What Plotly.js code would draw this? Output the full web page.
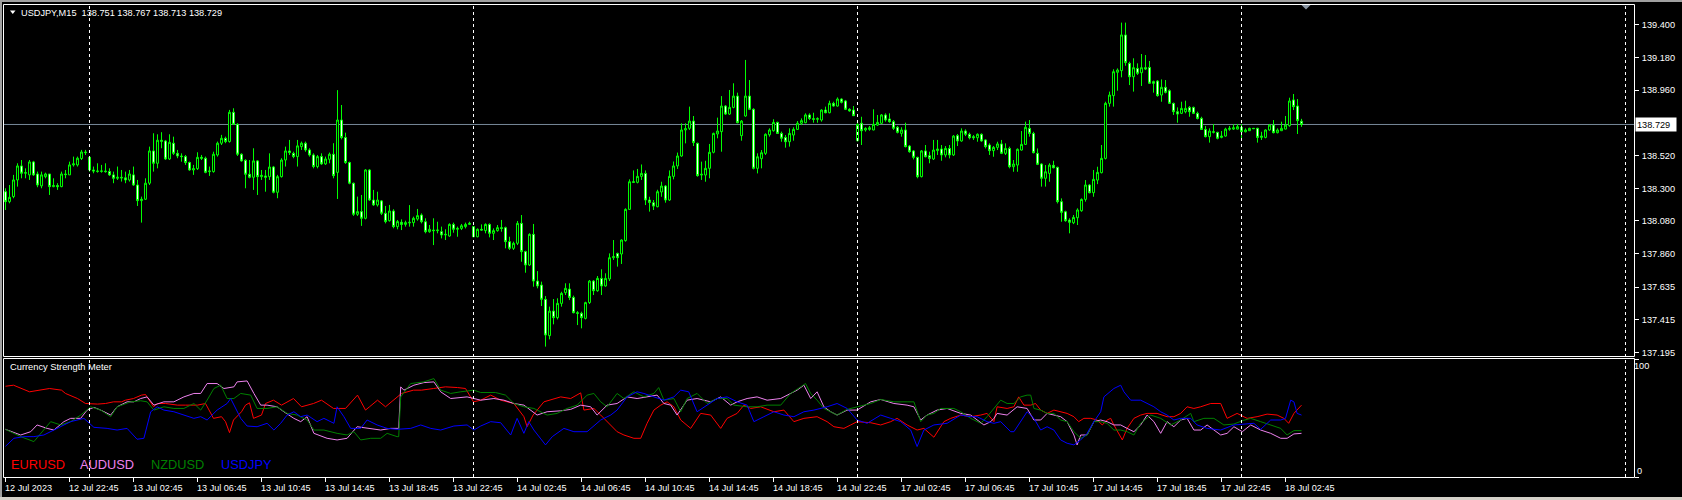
<!DOCTYPE html>
<html><head><meta charset="utf-8">
<script src="https://cdn.plot.ly/plotly-3.0.1.min.js"></script>
<style>html,body{margin:0;padding:0;background:#000;overflow:hidden}#chart{width:1682px;height:500px}</style>
</head><body><div id="chart"></div>
<script>
// ---------------- DATA ----------------
const symbolName = 'USDJPY,M15';
const openP = [
138.277,138.210,138.244,138.356,138.450,138.401,138.390,138.477,138.396,138.316,
138.378,138.396,138.311,138.318,138.311,138.396,138.390,138.457,138.457,138.500,
138.544,138.508,138.423,138.416,138.414,138.416,138.412,138.390,138.367,138.374,
138.370,138.356,138.390,138.322,138.217,138.226,138.334,138.551,138.468,138.623,
138.618,138.497,138.603,138.535,138.517,138.513,138.473,138.423,138.432,138.508,
138.502,138.412,138.412,138.524,138.603,138.636,138.614,138.811,138.730,138.529,
138.488,138.394,138.374,138.484,138.378,138.383,138.378,138.443,138.273,138.378,
138.490,138.551,138.535,138.513,138.580,138.603,138.558,138.524,138.446,138.513,
138.464,138.495,138.529,138.407,138.759,138.641,138.473,138.334,138.125,138.143,
138.098,138.423,138.221,138.188,138.215,138.132,138.082,138.147,138.042,138.071,
138.057,138.067,138.069,138.093,138.120,138.075,138.008,138.019,138.015,138.008,
137.986,137.979,138.057,138.024,138.030,138.042,138.057,138.042,137.974,138.024,
138.015,138.057,137.997,138.015,138.035,138.035,137.941,137.896,137.930,138.064,
137.874,137.784,137.990,137.676,137.649,137.553,137.309,137.474,137.430,137.526,
137.598,137.622,137.566,137.463,137.459,137.425,137.531,137.676,137.611,137.694,
137.643,137.690,137.833,137.862,137.858,137.948,138.158,138.344,138.340,138.380,
138.400,138.221,138.203,138.176,138.275,138.315,138.221,138.380,138.450,138.517,
138.692,138.703,138.752,138.602,138.389,138.389,138.434,138.542,138.665,138.681,
138.853,138.799,138.844,138.920,138.654,138.786,138.920,138.831,138.434,138.499,
138.535,138.660,138.687,138.743,138.669,138.642,138.613,138.658,138.696,138.737,
138.741,138.793,138.768,138.764,138.759,138.826,138.808,138.871,138.853,138.900,
138.887,138.831,138.826,138.620,138.737,138.692,138.696,138.692,138.725,138.737,
138.793,138.766,138.748,138.710,138.669,138.692,138.584,138.551,138.508,138.378,
138.551,138.519,138.497,138.553,138.564,138.524,138.568,138.524,138.654,138.618,
138.685,138.663,138.647,138.640,138.663,138.625,138.591,138.553,138.575,138.598,
138.535,138.568,138.445,138.456,138.557,138.595,138.703,138.669,138.535,138.463,
138.367,138.400,138.454,138.441,138.210,138.142,138.086,138.068,138.102,138.149,
138.225,138.322,138.270,138.355,138.405,138.501,138.871,138.923,139.080,139.091,
139.331,139.140,139.050,139.106,139.077,139.111,139.113,139.017,139.021,138.927,
138.979,138.956,138.871,138.815,138.804,138.815,138.844,138.844,138.804,138.770,
138.696,138.647,138.676,138.676,138.642,138.651,138.696,138.698,138.698,138.710,
138.680,138.687,138.703,138.703,138.642,138.642,138.692,138.725,138.674,138.687,
138.698,138.721,138.894,138.853,138.751];
const highP = [
138.300,138.322,138.390,138.468,138.490,138.434,138.490,138.484,138.412,138.412,
138.405,138.396,138.367,138.334,138.412,138.423,138.479,138.513,138.513,138.558,
138.558,138.513,138.446,138.468,138.457,138.468,138.434,138.412,138.446,138.423,
138.412,138.423,138.446,138.356,138.244,138.367,138.580,138.670,138.663,138.677,
138.625,138.663,138.647,138.558,138.535,138.524,138.479,138.457,138.542,138.524,
138.513,138.446,138.546,138.614,138.659,138.647,138.827,138.838,138.737,138.535,
138.495,138.490,138.569,138.490,138.423,138.423,138.535,138.450,138.390,138.502,
138.580,138.625,138.546,138.625,138.614,138.614,138.569,138.535,138.524,138.535,
138.513,138.540,138.603,138.960,138.860,138.674,138.479,138.338,138.244,138.255,
138.428,138.428,138.289,138.277,138.221,138.181,138.188,138.159,138.087,138.091,
138.082,138.187,138.109,138.161,138.131,138.098,138.053,138.098,138.075,138.042,
138.024,138.064,138.069,138.042,138.060,138.069,138.075,138.046,138.030,138.057,
138.064,138.064,138.030,138.053,138.087,138.042,137.974,137.941,138.080,138.120,
137.880,137.997,138.060,137.743,137.672,137.575,137.504,137.555,137.560,137.604,
137.661,137.661,137.578,137.474,137.470,137.537,137.683,137.683,137.710,137.755,
137.728,137.862,137.952,137.867,137.956,138.165,138.360,138.420,138.430,138.460,
138.420,138.243,138.221,138.290,138.344,138.322,138.420,138.480,138.540,138.737,
138.737,138.849,138.786,138.607,138.479,138.485,138.598,138.674,138.775,138.920,
138.860,138.961,139.006,138.943,138.759,139.163,139.028,138.838,138.535,138.557,
138.669,138.703,138.764,138.748,138.681,138.658,138.703,138.710,138.752,138.770,
138.804,138.804,138.808,138.777,138.831,138.849,138.889,138.882,138.911,138.905,
138.894,138.838,138.853,138.737,138.781,138.710,138.719,138.831,138.793,138.799,
138.804,138.804,138.759,138.719,138.710,138.741,138.591,138.557,138.512,138.557,
138.591,138.546,138.625,138.625,138.591,138.584,138.591,138.658,138.665,138.703,
138.696,138.674,138.658,138.669,138.669,138.629,138.602,138.584,138.613,138.625,
138.602,138.580,138.490,138.568,138.685,138.748,138.759,138.680,138.568,138.468,
138.456,138.468,138.485,138.445,138.232,138.149,138.098,138.120,138.165,138.232,
138.355,138.328,138.423,138.445,138.591,138.882,138.950,139.100,139.106,139.414,
139.414,139.151,139.174,139.140,139.203,139.196,139.156,139.024,139.028,139.032,
139.028,138.965,138.876,138.844,138.882,138.889,138.853,138.849,138.815,138.781,
138.719,138.703,138.732,138.680,138.685,138.707,138.719,138.730,138.732,138.732,
138.703,138.707,138.705,138.707,138.680,138.696,138.732,138.759,138.703,138.748,
138.786,138.909,138.934,138.900,138.767];
const lowP = [
138.154,138.199,138.233,138.311,138.367,138.367,138.356,138.383,138.307,138.300,
138.367,138.255,138.307,138.289,138.307,138.367,138.390,138.446,138.446,138.490,
138.524,138.412,138.401,138.405,138.405,138.405,138.383,138.334,138.356,138.345,
138.334,138.345,138.316,138.181,138.069,138.221,138.322,138.412,138.434,138.569,
138.490,138.490,138.524,138.502,138.479,138.457,138.418,138.390,138.423,138.490,
138.401,138.383,138.405,138.513,138.591,138.603,138.607,138.726,138.517,138.479,
138.300,138.367,138.289,138.255,138.356,138.277,138.356,138.266,138.233,138.372,
138.446,138.524,138.502,138.446,138.558,138.546,138.513,138.434,138.434,138.457,
138.457,138.468,138.367,138.228,138.629,138.464,138.327,138.114,138.114,138.047,
138.091,138.215,138.181,138.177,138.120,138.064,138.076,138.031,138.024,138.019,
138.042,138.042,138.042,138.082,138.064,137.997,138.001,137.918,137.997,137.963,
137.952,137.974,138.001,137.974,138.019,138.030,138.053,137.970,137.970,138.015,
137.997,137.970,137.952,138.008,138.008,137.896,137.885,137.885,137.918,137.806,
137.732,137.777,137.638,137.627,137.508,137.235,137.284,137.385,137.418,137.504,
137.582,137.548,137.459,137.380,137.358,137.418,137.522,137.582,137.604,137.582,
137.638,137.676,137.818,137.773,137.791,137.941,138.154,138.338,138.333,138.356,
138.187,138.143,138.154,138.172,138.243,138.203,138.215,138.360,138.430,138.512,
138.602,138.692,138.584,138.378,138.356,138.344,138.367,138.535,138.636,138.546,
138.793,138.793,138.838,138.737,138.620,138.781,138.826,138.427,138.400,138.434,
138.524,138.647,138.681,138.665,138.613,138.573,138.580,138.620,138.692,138.725,
138.737,138.759,138.741,138.741,138.748,138.804,138.804,138.849,138.849,138.871,
138.826,138.815,138.786,138.615,138.591,138.681,138.687,138.690,138.719,138.732,
138.748,138.741,138.692,138.669,138.647,138.575,138.539,138.494,138.367,138.373,
138.508,138.468,138.490,138.524,138.485,138.508,138.501,138.517,138.584,138.613,
138.651,138.629,138.625,138.613,138.613,138.568,138.524,138.512,138.557,138.530,
138.524,138.434,138.411,138.411,138.553,138.591,138.647,138.535,138.456,138.311,
138.311,138.344,138.434,138.198,138.075,138.075,137.997,138.059,138.053,138.142,
138.210,138.266,138.243,138.328,138.400,138.494,138.849,138.849,138.956,139.046,
139.124,138.994,138.950,139.062,138.988,139.095,139.001,138.943,138.916,138.882,
138.938,138.867,138.793,138.741,138.799,138.804,138.781,138.799,138.763,138.692,
138.642,138.607,138.669,138.629,138.636,138.647,138.687,138.692,138.696,138.636,
138.676,138.685,138.698,138.607,138.625,138.636,138.687,138.669,138.669,138.685,
138.696,138.714,138.826,138.665,138.713];
const closeP = [
138.210,138.239,138.356,138.450,138.401,138.405,138.477,138.390,138.322,138.390,
138.396,138.311,138.318,138.311,138.396,138.392,138.457,138.464,138.502,138.544,
138.540,138.423,138.416,138.414,138.416,138.412,138.390,138.367,138.374,138.370,
138.356,138.396,138.322,138.217,138.226,138.334,138.551,138.468,138.623,138.616,
138.497,138.609,138.535,138.517,138.513,138.473,138.423,138.432,138.508,138.502,
138.407,138.416,138.529,138.603,138.636,138.614,138.811,138.730,138.529,138.484,
138.394,138.374,138.484,138.378,138.387,138.374,138.443,138.273,138.378,138.490,
138.551,138.540,138.513,138.585,138.603,138.558,138.524,138.446,138.513,138.464,
138.497,138.529,138.385,138.759,138.641,138.473,138.334,138.125,138.143,138.098,
138.423,138.221,138.188,138.221,138.132,138.076,138.147,138.042,138.076,138.057,
138.069,138.071,138.098,138.116,138.075,138.008,138.024,138.015,138.019,137.986,
137.990,138.057,138.024,138.030,138.048,138.057,138.064,137.974,138.024,138.019,
138.057,137.997,138.015,138.035,138.030,137.941,137.896,137.930,138.064,137.874,
137.784,137.990,137.676,137.643,137.553,137.313,137.474,137.430,137.526,137.593,
137.627,137.566,137.463,137.459,137.430,137.531,137.676,137.611,137.694,137.643,
137.694,137.833,137.840,137.833,137.952,138.158,138.344,138.340,138.380,138.400,
138.221,138.205,138.180,138.277,138.315,138.221,138.380,138.450,138.517,138.692,
138.701,138.752,138.607,138.385,138.394,138.434,138.542,138.669,138.685,138.853,
138.799,138.844,138.920,138.741,138.752,138.920,138.831,138.434,138.512,138.539,
138.663,138.692,138.743,138.669,138.636,138.613,138.669,138.696,138.737,138.755,
138.793,138.770,138.764,138.768,138.826,138.808,138.871,138.853,138.900,138.878,
138.831,138.820,138.788,138.730,138.687,138.703,138.707,138.730,138.743,138.793,
138.759,138.748,138.703,138.676,138.692,138.580,138.546,138.508,138.378,138.551,
138.512,138.501,138.557,138.564,138.524,138.568,138.524,138.651,138.618,138.685,
138.663,138.640,138.640,138.663,138.618,138.580,138.553,138.575,138.598,138.535,
138.568,138.445,138.463,138.562,138.595,138.710,138.669,138.539,138.461,138.367,
138.411,138.456,138.438,138.210,138.138,138.082,138.071,138.104,138.154,138.225,
138.322,138.270,138.360,138.407,138.501,138.871,138.927,139.084,139.095,139.331,
139.145,139.050,139.111,139.073,139.111,139.102,139.006,139.006,138.923,138.979,
138.945,138.871,138.815,138.799,138.837,138.837,138.815,138.804,138.770,138.696,
138.647,138.685,138.680,138.636,138.651,138.698,138.703,138.707,138.714,138.680,
138.692,138.703,138.701,138.642,138.651,138.692,138.725,138.674,138.692,138.703,
138.725,138.887,138.849,138.755,138.729];

// time axis labels (bar index of each label)
const timeTickIdx = [0,16,32,48,64,80,96,112,128,144,160,176,192,208,224,240,256,272,288,304,320];
const timeTickText = ['12 Jul 2023','12 Jul 22:45','13 Jul 02:45','13 Jul 06:45','13 Jul 10:45','13 Jul 14:45','13 Jul 18:45','13 Jul 22:45','14 Jul 02:45','14 Jul 06:45','14 Jul 10:45','14 Jul 14:45','14 Jul 18:45','14 Jul 22:45','17 Jul 02:45','17 Jul 06:45','17 Jul 10:45','17 Jul 14:45','17 Jul 18:45','17 Jul 22:45','18 Jul 02:45'];
// day separators (bar index of midnight)
const daySepIdx = [21,117,213,309,405];
// price scale labels
const priceTicks = [139.400,139.180,138.960,138.520,138.300,138.080,137.860,137.635,137.415,137.195];

// Currency Strength Meter (bar position, value 0-100)
const csmNames = ['EURUSD','AUDUSD','NZDUSD','USDJPY'];
const csmColors = ['#ff0000','#ee82ee','#008000','#0000ff'];
const eurPos = [0,2,6,9,11,14,15,18,20,23,25,27,29,30,32,34,35,37,38,40,43,45,48,50,52,54,55,56,57,59,60,61,62,64,65,67,69,72,74,77,79,82,85,88,90,91,93,95,98,99,102,104,107,110,113,115,117,
118.8,121.3,123.8,127.1,129.6,130.4,131.9,134.6,137.1,138.8,141.3,143.8,144.6,147.1,148.8,151.3,152.9,154.6,157.1,158.8,160.4,162.1,163.8,165.4,167.1,168.8,171.3,173.8,176.3,178.8,180.4,182.9,184.6,186.3,188.8,192.1,194.6,197.1,199.6,202.9,205.4,207.1,209.6,211.3,212.9,216.3,218.8,221.3,222.9,225.4,227.9,229.6,232.1,234.6,236.3,238.8,
241.3,243.8,245.4,247.1,247.9,250.4,252.1,253.3,254.6,256.3,257.5,258.8,260.4,262.1,263.8,265.4,267.1,268.3,269.6,271.3,272.9,274.2,275.4,276.3,277.1,279.2,280.4,282.1,283.8,285.4,287.9,290.4,292.1,293.8,295.4,297.1,298.8,301.3,303.8,304.6,305.4,307.9,310.4,312.9,315.4,317.9,319.6,320.8,322.1,324];
const eurVal = [76.9,77.8,72.2,73.6,75.0,73.6,70.8,66.5,62.3,61.8,62.3,63.7,63.7,65.1,66.5,69.4,69.9,59.5,62.3,62.3,60.9,60.9,60.9,62.3,49.7,51.1,46.9,37.6,48.3,55.3,60.9,62.9,49.7,52.5,62.3,65.1,60.9,66.5,59.5,62.3,65.1,58.1,58.1,69.4,56.7,59.5,65.1,59.5,67.9,70.8,73.6,73.6,75.0,76.4,75.8,75.0,63.7,
65.1,69.4,65.1,62.3,51.1,42.6,52.5,63.7,66.5,67.9,66.5,71.3,56.7,58.1,52.5,44.1,38.4,35.6,32.8,32.8,45.5,56.7,60.9,63.7,59.5,48.3,41.2,53.9,52.5,41.2,49.7,53.9,60.9,58.1,59.5,55.3,56.7,46.9,49.7,51.1,46.9,42.6,41.2,44.1,46.9,46.0,44.1,46.9,49.7,44.1,39.8,41.2,33.7,46.9,49.7,52.5,
51.1,52.5,53.9,46.9,59.5,58.1,59.5,67.9,60.9,60.9,62.3,56.7,53.9,56.7,55.3,53.9,51.1,46.9,49.7,49.7,48.3,44.1,48.3,49.7,44.1,31.4,41.2,49.7,52.5,53.9,53.9,51.1,51.1,53.9,59.5,58.1,59.5,62.3,62.3,56.7,49.7,53.9,49.7,51.1,53.3,52.5,49.7,45.5,53.9,60.9];
const audPos = [0,3.8,6.3,7.9,10.4,12.1,14.6,16.3,18.8,20.4,22.1,23.8,26.3,27.9,30.4,32.1,33.8,35.4,37.1,39.6,42.1,44.6,47.1,48.8,50.4,52.9,54.6,57.1,57.9,60.4,62.1,63.8,65.4,67.9,69.6,72.1,73.8,75.4,77.1,80.4,82.9,85.4,87.9,90.4,93.8,96.3,98.3,98.8,99.6,102.1,104.6,107.1,108.8,111.3,115.4,117.1,
118.8,122.1,124.6,127.1,129.6,132.9,135.4,138.8,141.3,143.8,146.3,147.9,150.4,152.9,155.4,157.9,160.4,162.9,164.6,166.3,167.9,170.4,172.9,176.3,178.8,181.3,182.9,185.4,187.9,190.4,193.8,196.3,197.9,199.6,201.3,202.9,204.6,206.3,207.9,210.4,212.9,216.3,218.8,222.1,225.4,227.1,228.8,230.4,232.9,235.4,237.9,
238.8,241.3,242.9,244.6,246.3,247.1,247.9,250.4,252.9,255.4,257.1,258.8,260.4,262.1,263.8,265.4,267.1,267.9,268.8,270.4,272.1,273.8,275.4,277.1,278.8,280.4,282.1,283.8,285.4,287.1,288.8,290.4,292.1,293.8,295.4,297.1,298.8,300.4,302.1,303.8,305.4,307.1,309.2,311.3,313.8,316.3,318.8,320.4,322.1,324];
const audVal = [40.4,35.6,38.4,44.1,41.2,39.8,46.9,49.7,49.7,56.7,59.0,56.7,52.5,59.5,63.7,63.7,66.5,67.9,60.9,63.7,63.7,67.9,70.8,70.8,79.2,79.2,75.0,76.4,80.6,81.4,70.8,60.9,60.9,59.5,55.3,49.7,46.9,51.1,37.0,32.8,31.4,32.8,42.6,41.2,39.8,41.2,41.2,76.4,73.6,77.8,80.0,80.6,72.2,66.5,67.9,66.5,
65.1,66.5,65.1,62.3,60.9,52.5,55.3,56.1,57.3,60.9,59.5,52.5,60.9,62.3,67.9,66.5,67.9,69.4,62.3,60.9,52.5,65.1,66.5,63.7,67.9,60.9,63.7,66.5,67.9,65.1,66.5,70.8,73.6,77.8,66.5,72.2,59.5,55.3,52.5,56.7,56.7,63.7,65.7,62.3,60.9,59.5,48.3,52.5,56.7,58.1,55.3,
53.9,52.5,48.3,44.1,46.9,49.7,53.9,52.5,59.5,58.1,48.3,48.3,53.9,52.5,51.1,46.9,35.6,27.2,35.6,35.6,46.9,48.3,46.9,44.1,44.1,41.2,38.4,44.1,52.5,46.9,37.0,46.9,42.6,48.3,49.7,39.8,39.8,44.1,39.8,35.6,37.0,42.6,38.4,44.1,39.8,37.0,32.8,32.8,36.5,37.0];
const nzdPos = [0,3.8,7.1,9.6,11.3,13.8,16.3,18.8,21.3,23.8,26.3,27.9,31.3,33.8,35.4,37.1,39.6,42.1,44.6,47.1,48.8,50.4,52.1,53.8,55.4,57.1,58.8,61.3,62.9,65.4,67.9,70.4,72.9,75.4,77.1,79.6,82.9,85.4,87.1,88.8,91.3,93.8,95.4,97.9,98.3,98.8,101.3,104.6,107.1,108.8,111.3,113.8,117.1,
118.8,122.5,125,127.1,129.6,132.1,135.4,137.9,140.4,142.9,145.4,147.1,148.8,150.4,152.9,154.6,157.1,159.6,162.1,163.3,164.6,167.1,168.8,170.4,172.9,175.4,177.9,180.4,182.1,185.4,187.9,190.4,193.8,196.3,198.8,200,201.3,202.9,204.6,206.3,207.9,210.4,212.9,216.3,218.8,222.1,225.4,227.1,228.8,230.4,232.1,233.8,237.1,
238.8,241.3,243.8,245.4,247.1,248.8,250.4,252.1,253.8,255.4,256.3,257.1,258.8,260.4,262.1,263.8,265.4,267.1,268.8,270.4,272.1,273.8,275.4,277.1,278.8,280.4,282.1,283.8,286.3,288.8,291.3,293.8,296.3,297.1,299.6,302.1,304.6,307.1,309.2,311.3,313.8,316.3,318.8,320.4,322.1,324];
const nzdVal = [40.4,34.2,30.0,39.8,46.9,44.1,46.9,52.5,59.5,56.7,51.1,59.5,63.7,64.6,63.7,56.7,59.5,58.1,58.1,62.3,56.7,65.1,75.0,77.8,66.5,66.5,70.8,69.4,58.1,58.1,59.5,53.9,52.5,48.3,39.8,39.8,37.0,35.6,38.4,31.4,32.8,32.8,37.0,34.2,34.2,67.9,79.2,80.6,83.4,73.6,70.8,72.2,73.6,
71.6,71.6,69.4,62.3,59.5,58.1,52.5,53.9,58.1,60.9,69.4,70.8,63.7,59.5,70.8,66.5,72.2,67.9,70.8,75.8,65.1,66.5,55.3,66.5,70.8,62.3,66.5,66.5,60.9,59.5,59.5,60.9,60.9,70.8,76.4,79.2,70.8,65.1,58.1,55.3,52.5,57.3,59.5,62.3,65.7,63.7,63.7,63.7,46.9,52.5,53.9,58.1,58.1,
55.3,49.7,45.5,51.1,58.1,65.1,62.3,62.3,67.9,69.4,69.4,58.1,56.7,53.9,53.9,48.3,46.9,38.4,32.8,35.6,46.9,46.9,45.5,39.8,39.8,38.4,35.6,45.5,52.5,49.7,44.1,48.3,53.9,46.9,49.7,49.7,44.1,44.9,47.7,49.7,46.9,44.1,41.2,35.6,39.3,39.3];
const jpyPos = [0,2.1,4.6,7.1,9.6,12.1,14.6,16.3,19.6,22.1,25.4,27.9,30.4,32.9,34.6,36.3,37.9,39.6,42.1,44.6,47.1,48.8,50.4,52.9,55.4,56.3,57.1,58.8,60.4,62.9,65.4,67.1,68.8,70.4,72.1,73.8,75.4,77.9,79.6,82.1,82.9,84.6,86.3,88.8,90.4,92.9,95.4,97.9,101.3,103.8,106.3,108.8,112.1,115.4,117.1,
118.8,121.3,123.8,126.3,127.9,129.6,130.8,132.1,133.8,135,136.7,139.6,142.1,145.4,148.8,151.3,152.9,155.4,157.9,159.6,162.1,164.6,167.1,168.8,170.8,172.9,175.4,177.9,180.4,182.9,185.4,187.1,189.6,192.1,194.6,197.1,199.6,202.1,205.4,207.9,210.4,212.9,215.4,218.8,221.3,223.8,226.3,227.9,229.6,232.1,235.4,238.8,
241.3,242.9,245.4,247.1,248.8,251.3,252.1,253.8,255.4,257.1,258.8,260.4,262.1,263.8,265.4,267.1,268.8,270.4,272.1,273.8,274.6,277.1,278.8,279.6,281.3,283.8,285.4,287.1,288.8,290.4,292.1,293.8,296.3,297.9,300.4,303.8,307.1,309.6,312.1,313.8,316.3,318.8,320,321.3,322.1,322.9,324];
const jpyVal = [26.0,32.8,34.2,34.2,35.6,39.8,44.1,46.9,49.7,42.1,41.2,39.8,41.2,32.0,32.8,55.3,59.5,56.7,55.3,52.5,49.7,51.1,48.3,56.7,62.3,66.5,60.9,49.7,43.2,42.6,45.5,39.8,45.5,52.5,55.3,51.1,52.5,46.9,49.7,45.5,59.5,51.1,41.2,41.2,48.3,44.1,41.2,40.4,41.2,44.1,41.2,39.8,43.2,44.1,39.8,
43.2,46.9,46.0,35.6,49.7,37.0,46.9,39.8,32.8,27.2,34.2,41.2,38.4,38.4,48.3,52.5,56.7,67.9,72.2,70.8,67.9,65.1,67.9,73.6,72.2,55.3,60.9,66.5,67.9,63.7,60.9,46.9,51.1,55.3,52.5,51.1,55.3,56.7,59.5,62.3,58.1,48.3,45.5,52.5,49.7,46.9,39.8,25.8,39.8,44.1,45.5,52.5,
51.1,51.1,46.9,45.5,46.9,38.4,38.4,46.9,55.3,49.7,39.8,42.6,39.8,31.4,28.6,27.2,31.4,37.0,46.9,55.3,67.9,75.0,77.8,72.2,65.1,65.1,62.3,59.5,55.3,52.5,48.3,49.7,49.7,44.1,41.2,39.8,44.1,44.9,45.5,40.4,48.3,48.3,49.7,65.1,63.7,53.9,52.5];

// ---------------- DRAWING ----------------
const W = 1682, H = 500;
const FONT = 'Liberation Sans, Arial, sans-serif';
const px = v => v / W;
const py = v => 1 - v / H;
const barIdx = closeP.map((_, i) => i);
const last = closeP.length - 1;

const traces = [{
  type: 'candlestick', x: barIdx, open: openP, high: highP, low: lowP, close: closeP,
  xaxis: 'x', yaxis: 'y', whiskerwidth: 0, hoverinfo: 'skip', showlegend: false,
  increasing: {line: {color: '#00ff00', width: 1}, fillcolor: '#000000'},
  decreasing: {line: {color: '#00ff00', width: 1}, fillcolor: '#ffffff'}
}];
const csmX = [eurPos, audPos, nzdPos, jpyPos];
const csmY = [eurVal, audVal, nzdVal, jpyVal];
csmNames.forEach((n, k) => traces.push({
  type: 'scatter', mode: 'lines', name: n, x: csmX[k], y: csmY[k], xaxis: 'x', yaxis: 'y2',
  line: {color: csmColors[k], width: 1}, hoverinfo: 'skip', showlegend: false
}));

const shapes = [
  {type:'rect', xref:'paper', yref:'paper', x0:0, x1:1, y0:py(0), y1:py(2), fillcolor:'#a0a0a0', line:{width:0}, layer:'above'},
  {type:'rect', xref:'paper', yref:'paper', x0:0, x1:px(2), y0:0, y1:1, fillcolor:'#a0a0a0', line:{width:0}, layer:'above'},
  {type:'rect', xref:'paper', yref:'paper', x0:0, x1:1, y0:0, y1:py(497), fillcolor:'#d4d0c8', line:{width:0}, layer:'above'},
  {type:'rect', xref:'paper', yref:'paper', x0:px(3.5), x1:px(1634.5), y0:py(356.5), y1:py(4.5), line:{color:'#ffffff', width:1}, layer:'above'},
  {type:'rect', xref:'paper', yref:'paper', x0:px(3.5), x1:px(1634.5), y0:py(477.5), y1:py(358.5), line:{color:'#ffffff', width:1}, layer:'above'},
  {type:'line', xref:'paper', yref:'y', x0:px(3.5), x1:px(1634), y0:closeP[last], y1:closeP[last], line:{color:'#778899', width:1}, layer:'below'},
  {type:'path', xref:'paper', yref:'paper', path:`M ${px(10)} ${py(10.5)} L ${px(15.5)} ${py(10.5)} L ${px(12.75)} ${py(14)} Z`, fillcolor:'#ffffff', line:{width:0}},
  {type:'path', xref:'paper', yref:'paper', path:`M ${px(1301.5)} ${py(5)} L ${px(1310.5)} ${py(5)} L ${px(1306)} ${py(9.5)} Z`, fillcolor:'#8a96a3', line:{width:0}, layer:'above'}
];
daySepIdx.forEach(d => shapes.push({type:'line', xref:'x', yref:'paper', x0:d, x1:d, y0:py(477), y1:py(5),
  line:{color:'#ffffff', width:1, dash:'3px,3px'}, layer:'above'}));

const txt = (text, x, y, size, color, extra) => Object.assign({text, xref:'paper', yref:'paper', x:px(x), y:py(y),
  xanchor:'left', yanchor:'middle', showarrow:false, font:{family:FONT, size, color}, borderpad:0}, extra || {});

const annotations = [
  txt(symbolName + '\u00a0\u00a0' + [openP[last], highP[last], lowP[last], closeP[last]].map(v => v.toFixed(3)).join(' '), 20, 13, 9.2, '#ffffff'),
  txt('Currency Strength Meter', 8.5, 367.3, 9.3, '#ffffff'),
  txt('100', 1633, 366, 9.2, '#ffffff'),
  txt('0', 1636, 470.5, 9.2, '#ffffff'),
  {text: closeP[last].toFixed(3), xref:'paper', yref:'y', x:px(1634.5), y:closeP[last], xanchor:'left', yanchor:'middle',
   showarrow:false, font:{family:FONT, size:9.2, color:'#000000'}, bgcolor:'#ffffff', borderpad:1, width:38, height:11, align:'left'}
];
const legendX = [10, 79, 149.5, 220];
csmNames.forEach((n, k) => annotations.push(txt(n, legendX[k], 464.5, 12.8, csmColors[k])));
timeTickIdx.forEach((t, k) => annotations.push({text: timeTickText[k], xref:'x', yref:'paper', x:t, y:py(487.5),
  xanchor:'left', yanchor:'middle', xshift:-1.5, showarrow:false, borderpad:0, font:{family:FONT, size:9.1, color:'#ffffff'}}));

const layout = {
  width: W, height: H, margin: {l:0, r:0, t:0, b:0},
  paper_bgcolor: '#000000', plot_bgcolor: '#000000',
  showlegend: false, hovermode: false, dragmode: false,
  xaxis: {domain:[px(3), px(1634)], range:[(3 - 5.5) / 4, (1634 - 5.5) / 4], anchor:'y2',
    showgrid:false, zeroline:false, showline:false, rangeslider:{visible:false}, fixedrange:true,
    tickmode:'array', tickvals:timeTickIdx, ticks:'outside', ticklen:4, tickwidth:1, tickcolor:'#ffffff', showticklabels:false},
  yaxis: {domain:[py(356), py(5)], range:[137.172, 139.5325], side:'right', anchor:'x',
    showgrid:false, zeroline:false, showline:false, fixedrange:true,
    tickmode:'array', tickvals:priceTicks, ticktext:priceTicks.map(v => v.toFixed(3)),
    ticks:'outside', ticklen:4, tickwidth:1, tickcolor:'#ffffff', ticklabelstandoff:1,
    tickfont:{family:FONT, size:9.2, color:'#ffffff'}},
  yaxis2: {domain:[py(477), py(359)], range:[0, 100], side:'right', anchor:'x',
    showgrid:false, zeroline:false, showline:false, fixedrange:true,
    tickmode:'array', tickvals:[0, 100], ticks:'outside', ticklen:4, tickwidth:1, tickcolor:'#ffffff', showticklabels:false},
  shapes, annotations
};
Plotly.newPlot('chart', traces, layout, {staticPlot:true, displayModeBar:false});
</script>
</body></html>
